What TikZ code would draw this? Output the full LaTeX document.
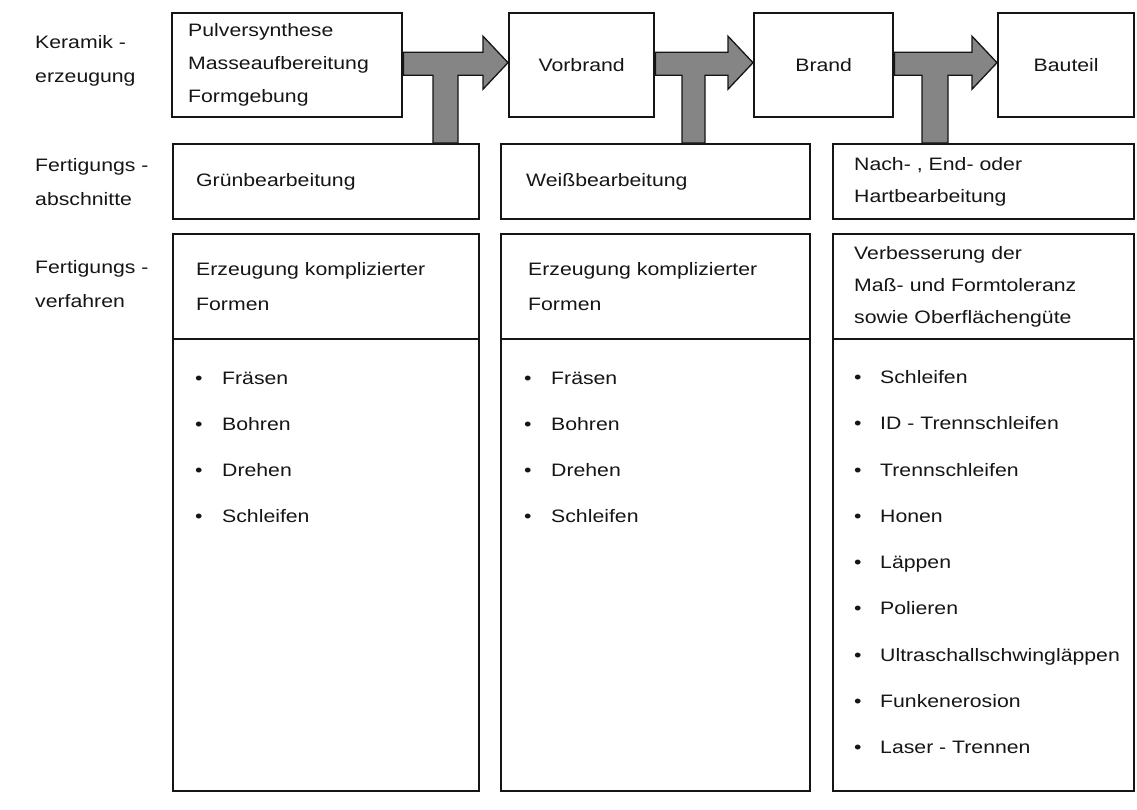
\documentclass[tikz,border=0pt]{standalone}
\usepackage{fontspec}
\setmainfont{Liberation Sans}[FakeStretch=1.18]
\usetikzlibrary{calc}
\definecolor{arrowgray}{HTML}{858585}
\definecolor{ink}{HTML}{151515}
\newcommand\tarrow[5]{%
  \filldraw[tarrow] let \p1=(#1.east), \p2=(#2.west), \p3=(#5.north) in
  (\x1,\y1+13pt) -- (\x2-25pt,\y1+13pt) -- (\x2-25pt,\y1+29pt) -- (\x2,\y1+2.5pt)
  -- (\x2-25pt,\y1-24pt) -- (\x2-25pt,\y1-10pt) -- (#4pt,\y1-10pt) -- (#4pt,\y3)
  -- (#3pt,\y3) -- (#3pt,\y1-10pt) -- (\x1,\y1-10pt) -- cycle;}
\begin{document}
\begin{tikzpicture}[x=1pt,y=-1pt,
  every node/.style={text=ink},
  txt/.style={font=\fontsize{18}{33}\selectfont},
  box/.style={txt, draw=ink, line width=2.4pt, anchor=north west, inner ysep=0pt, align=left},
  cbox/.style={box, align=center, inner xsep=4pt},
  lbl/.style={txt, anchor=west, align=left, inner sep=0pt, font=\fontsize{18}{34}\selectfont},
  item/.style={font=\fontsize{18}{20}\selectfont, anchor=base west, inner sep=0pt},
  tarrow/.style={fill=arrowgray, draw=ink, line width=1.3pt, line join=miter}
]
\useasboundingbox (0,0) rectangle (1137,809);

% left labels
\node[lbl] (l1) at (35,61) {Keramik -\\erzeugung};
\node[lbl] (l2) at (35,182.5) {Fertigungs -\\abschnitte};
\node[lbl] (l3) at (35,284) {Fertigungs -\\verfahren};

% row 1
\node[box, minimum width=230, minimum height=104, inner xsep=16pt, text width=198pt] (b1) at (171,12)
  {Pulversynthese\\Masseaufbereitung\\Formgebung};
\node[cbox, minimum width=145, minimum height=104, text width=137pt] (b2) at (508,12) {Vorbrand};
\node[cbox, minimum width=139, minimum height=104, text width=131pt] (b3) at (753,12) {Brand};
\node[cbox, minimum width=136, minimum height=104, text width=128pt] (b4) at (997,12) {Bauteil};

% row 2
\node[box, minimum width=306, minimum height=75, inner xsep=23pt, text width=260pt] (a1) at (172,143) {Grünbearbeitung};
\node[box, minimum width=309, minimum height=75, inner xsep=25pt, text width=259pt] (a2) at (500,143) {Weißbearbeitung};
\node[box, minimum width=301, minimum height=75, inner xsep=21pt, text width=259pt, font=\fontsize{18}{32}\selectfont] (a3) at (832,143)
  {Nach- , End- oder\\Hartbearbeitung};

% row 3 headers
\node[box, minimum width=306, minimum height=105, inner xsep=23pt, text width=260pt, font=\fontsize{18}{35}\selectfont] (h1) at (172,233)
  {Erzeugung komplizierter\\Formen};
\node[box, minimum width=309, minimum height=105, inner xsep=27pt, text width=255pt, font=\fontsize{18}{35}\selectfont] (h2) at (500,233)
  {Erzeugung komplizierter\\Formen};
\node[box, minimum width=301, minimum height=105, inner xsep=21pt, text width=259pt, font=\fontsize{18}{32}\selectfont] (h3) at (832,233)
  {Verbesserung der\\Maß- und Formtoleranz\\sowie Oberflächengüte};

% row 3 lists
\node[box, minimum width=306, minimum height=452] (p1) at (172,338) {};
\node[box, minimum width=309, minimum height=452] (p2) at (500,338) {};
\node[box, minimum width=301, minimum height=452] (p3) at (832,338) {};

\foreach \t [count=\i] in {Fräsen, Bohren, Drehen, Schleifen}{
  \node[item] (i1-\i) at (195, 384+46.3*\i-46.3) {\makebox[27pt][l]{\textbullet}\t};
  \node[item] (i2-\i) at (524, 384+46.3*\i-46.3) {\makebox[27pt][l]{\textbullet}\t};
}
\foreach \t [count=\i] in {Schleifen, ID - Trennschleifen, Trennschleifen, Honen, Läppen, Polieren,
  Ultraschallschwingläppen, Funkenerosion, Laser - Trennen}{
  \node[item] (i3-\i) at (854, 383.5+46.25*\i-46.25) {\makebox[26pt][l]{\textbullet}\t};
}

% T-arrows
\tarrow{b1}{b2}{433}{458}{a1}
\tarrow{b2}{b3}{682}{705}{a2}
\tarrow{b3}{b4}{922}{948}{a3}
\end{tikzpicture}
\end{document}
